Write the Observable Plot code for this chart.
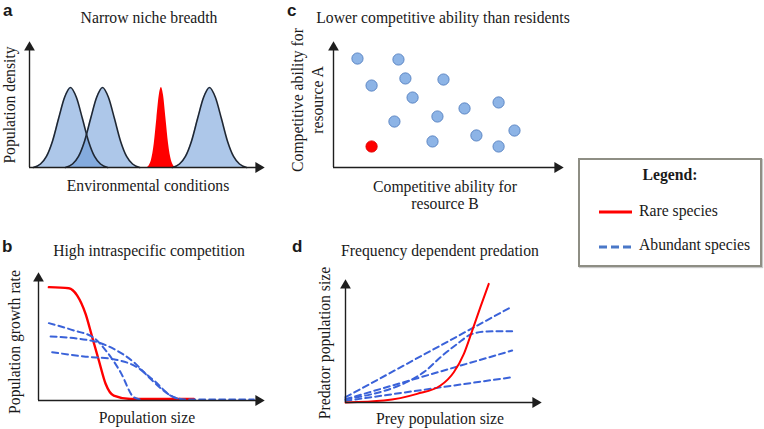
<!DOCTYPE html>
<html><head><meta charset="utf-8">
<script src="https://cdn.jsdelivr.net/npm/d3@7"></script>
<script src="https://cdn.jsdelivr.net/npm/@observablehq/plot@0.6"></script>
<style>
body{margin:0;background:#fff;}
#fig{position:relative;width:764px;height:429px;overflow:hidden;font-family:"Liberation Serif","Times New Roman",serif;color:#1a1a1a;}
.t{position:absolute;white-space:nowrap;font-size:15.7px;line-height:1;transform:translate(-50%,-50%);}
.r{position:absolute;white-space:nowrap;font-size:15.7px;line-height:1.25;text-align:center;transform:translate(-50%,-50%) rotate(-90deg);}
.p{position:absolute;font-family:"Liberation Sans",Arial,sans-serif;font-weight:bold;font-size:17px;line-height:1;}
</style></head><body><div id="fig"></div>
<script>
// ---------- data ----------
const xDom = [0, 100], yDom = [0, 100];
// Panel a: niche curves (bell profile: offsets and heights)
const bellOffsets = [-16.2,-13.1,-10.5,-7.9,-5.2,-2.6,0,2.6,5.2,7.9,10.5,13.1,16.2];
const bellHeights = [0,2.9,9.2,21.7,40.8,58.3,66.7,58.3,40.8,21.7,9.2,2.9,0];
const nicheCenters = [17.9, 31.9, 78.6];
const rareOffsets = [-6.1,-4.4,-3.1,-2.0,-0.9,0,0.9,2.0,3.1,4.4,6.1];
const rareHeights = [0,5.7,20,40.4,60.4,66.7,60.4,40.4,20,5.7,0];
const rareCenter = 57.6;
// Panel b: growth rate vs population size
const bRedX = [4.7,13.8,17.6,21.4,24.4,27.4,30.5,34.2,41.8,70.6];
const bRedY = [92.9,92,86,71,52,33,13.7,4,1.2,1.2];
const bBlue1X = [4.7,16.1,25.1,31.2,37.3,43.3,46.4];
const bBlue1Y = [63.4,57.4,51.4,39.6,23.2,2.7,0.8];
const bBlue2X = [5.5,25.1,34.2,43.3,50.9,60,64.5];
const bBlue2Y = [52.5,48.6,42.3,31.4,17.8,4.1,0.8];
const bBlue3X = [6.2,20.6,34.2,44.8,52.4,61.5,67.6,97.9];
const bBlue3Y = [39.6,36.1,33.8,27.3,16.4,2.7,0.8,0.8];
// Panel c: competitive abilities (x = resource B, y = resource A)
const cResX = [10.7,29.0,17.0,32.1,49.1,35.3,27.2,46.4,58.5,73.7,44.2,63.8,73.7,80.8];
const cResY = [90.8,90,68.3,74.2,73.3,58.3,38.3,42.5,49.2,54.2,21.7,26.7,17.5,30.8];
const cRareX = [17.0], cRareY = [17.5];
// Panel d: predator vs prey
const dRedX = [0,20.2,37.7,50,57,62.3,66.7,71,75.4];
const dRedY = [0,1.7,7.4,14.5,25.9,41.6,61.5,81.5,101.4];
const dBlueAX = [0,87.7], dBlueAY = [4.5,82];
const dBlueBX = [0,41.2,50,58.8,66.7,74.6,87.7], dBlueBY = [2.8,25.9,38.7,50.1,58.7,60.7,61];
const dBlueCX = [0,87.7], dBlueCY = [2.8,44.4];
const dBlueDX = [0,87.7], dBlueDY = [1.4,21.6];

// ---------- helpers ----------
const RED = "#ff0000", BLUE = "#3a62d9", AX = "#1e1e1e";
const fig = document.getElementById("fig");
const zip = (xs, ys, extra={}) => xs.map((x,i)=>({x, y: ys[i], ...extra}));
function axes() {
  return [
    Plot.ruleX([xDom[0]], {stroke: AX, strokeWidth: 1.4}),
    Plot.ruleY([yDom[0]], {stroke: AX, strokeWidth: 1.4}),
    Plot.dot([{x: xDom[0], y: yDom[1]}], {x:"x", y:"y", symbol:"triangle", r:4, fill: AX, stroke:null}),
    Plot.dot([{x: xDom[1], y: yDom[0]}], {x:"x", y:"y", symbol:"triangle", r:4, rotate:90, fill: AX, stroke:null})
  ];
}
function panel(left, top, width, height, m, marks) {
  const svg = Plot.plot({
    width, height,
    marginLeft: m[0], marginRight: m[1], marginTop: m[2], marginBottom: m[3],
    x: {domain: xDom, axis: null},
    y: {domain: yDom, axis: null},
    style: {background: "transparent", overflow: "visible"},
    marks
  });
  svg.style.position = "absolute";
  svg.style.left = left + "px";
  svg.style.top = top + "px";
  fig.appendChild(svg);
}
function label(html, cx, cy, cls="t") {
  const d = document.createElement("div");
  d.className = cls; d.innerHTML = html;
  d.style.left = cx + "px"; d.style.top = cy + "px";
  fig.appendChild(d);
}
function letter(s, left, top) {
  const d = document.createElement("div");
  d.className = "p"; d.textContent = s;
  d.style.left = left + "px"; d.style.top = top + "px";
  fig.appendChild(d);
}

// ---------- panel a ----------
const niche = nicheCenters.flatMap((c, k) => bellOffsets.map((o, i) => ({k, x: c + o, y: bellHeights[i]})));
const rare = rareOffsets.map((o, i) => ({x: rareCenter + o, y: rareHeights[i]}));
panel(0, 30, 270, 150, [29, 12, 17, 13], [
  Plot.areaY(niche, {x:"x", y:"y", z:"k", fill:"#5b8fd4", fillOpacity:0.5, curve:"monotone-x"}),
  Plot.areaY(rare, {x:"x", y:"y", fill: RED, curve:"monotone-x"}),
  Plot.line(niche, {x:"x", y:"y", z:"k", stroke:"#1f2733", strokeWidth:1.6, curve:"monotone-x"}),
  ...axes()
]);
letter("a", 3, 2);
label("Narrow niche breadth", 149, 18);
label("Environmental conditions", 148, 186);
label("Population density", 10, 105, "r");

// ---------- panel b ----------
const bBlue = [
  ...zip(bBlue1X, bBlue1Y, {k: 1}),
  ...zip(bBlue2X, bBlue2Y, {k: 2}),
  ...zip(bBlue3X, bBlue3Y, {k: 3})
];
panel(0, 265, 270, 150, [38, 12, 13, 15], [
  Plot.line(zip(bRedX, bRedY), {x:"x", y:"y", stroke: RED, strokeWidth: 2.4, curve:"monotone-x"}),
  Plot.line(bBlue, {x:"x", y:"y", z:"k", stroke: BLUE, strokeWidth: 2, strokeDasharray:"6,4", curve:"monotone-x"}),
  ...axes()
]);
letter("b", 2, 238);
label("High intraspecific competition", 149, 251);
label("Population size", 147, 418);
label("Population growth rate", 15, 342, "r");

// ---------- panel c ----------
panel(285, 30, 285, 150, [48, 13, 17, 13], [
  ...axes(),
  Plot.dot(zip(cResX, cResY), {x:"x", y:"y", r:5.6, fill:"#8db4e6", stroke:"#5d87c5", strokeWidth:1}),
  Plot.dot(zip(cRareX, cRareY), {x:"x", y:"y", r:5.6, fill: RED, stroke: "#e00000", strokeWidth:1})
]);
letter("c", 287, 2);
label("Lower competitive ability than residents", 443, 18);
label("Competitive ability for<br>resource A", 308, 100, "r");
label("Competitive ability for", 445, 187);
label("resource B", 445, 204);

// ---------- panel d ----------
const dBlue = [
  ...zip(dBlueAX, dBlueAY, {k: 1}),
  ...zip(dBlueBX, dBlueBY, {k: 2}),
  ...zip(dBlueCX, dBlueCY, {k: 3}),
  ...zip(dBlueDX, dBlueDY, {k: 4})
];
panel(290, 270, 260, 150, [55, 15, 15, 18], [
  Plot.line(dBlue, {x:"x", y:"y", z:"k", stroke: BLUE, strokeWidth: 2, strokeDasharray:"6,4", curve:"monotone-x"}),
  Plot.line(zip(dRedX, dRedY), {x:"x", y:"y", stroke: RED, strokeWidth: 2, curve:"monotone-x"}),
  ...axes()
]);
letter("d", 292, 238);
label("Frequency dependent predation", 440, 251);
label("Prey population size", 440, 419);
label("Predator population size", 325, 343, "r");

// ---------- legend ----------
const box = document.createElement("div");
Object.assign(box.style, {position:"absolute", left:"578px", top:"158px", width:"184px", height:"109px",
  boxSizing:"border-box", border:"2px solid #8e8e84", boxShadow:"1px 1px 1px #c8c8c8", background:"#fff"});
fig.appendChild(box);
label("<b>Legend:</b>", 670, 175);
const ls = "http://www.w3.org/2000/svg";
const lg = document.createElementNS(ls, "svg");
lg.setAttribute("width", 40); lg.setAttribute("height", 50);
Object.assign(lg.style, {position:"absolute", left:"597px", top:"200px"});
lg.innerHTML = `<line x1="2" x2="35" y1="12" y2="12" stroke="${RED}" stroke-width="3"/>
<line x1="2" x2="35" y1="47" y2="47" stroke="#4a78c8" stroke-width="3" stroke-dasharray="8,4"/>`;
fig.appendChild(lg);
const l1 = document.createElement("div"); l1.className="t"; l1.textContent="Rare species";
Object.assign(l1.style,{left:"639px", top:"211px", transform:"translate(0,-50%)"}); fig.appendChild(l1);
const l2 = document.createElement("div"); l2.className="t"; l2.textContent="Abundant species";
Object.assign(l2.style,{left:"639px", top:"245px", transform:"translate(0,-50%)"}); fig.appendChild(l2);
</script></body></html>
